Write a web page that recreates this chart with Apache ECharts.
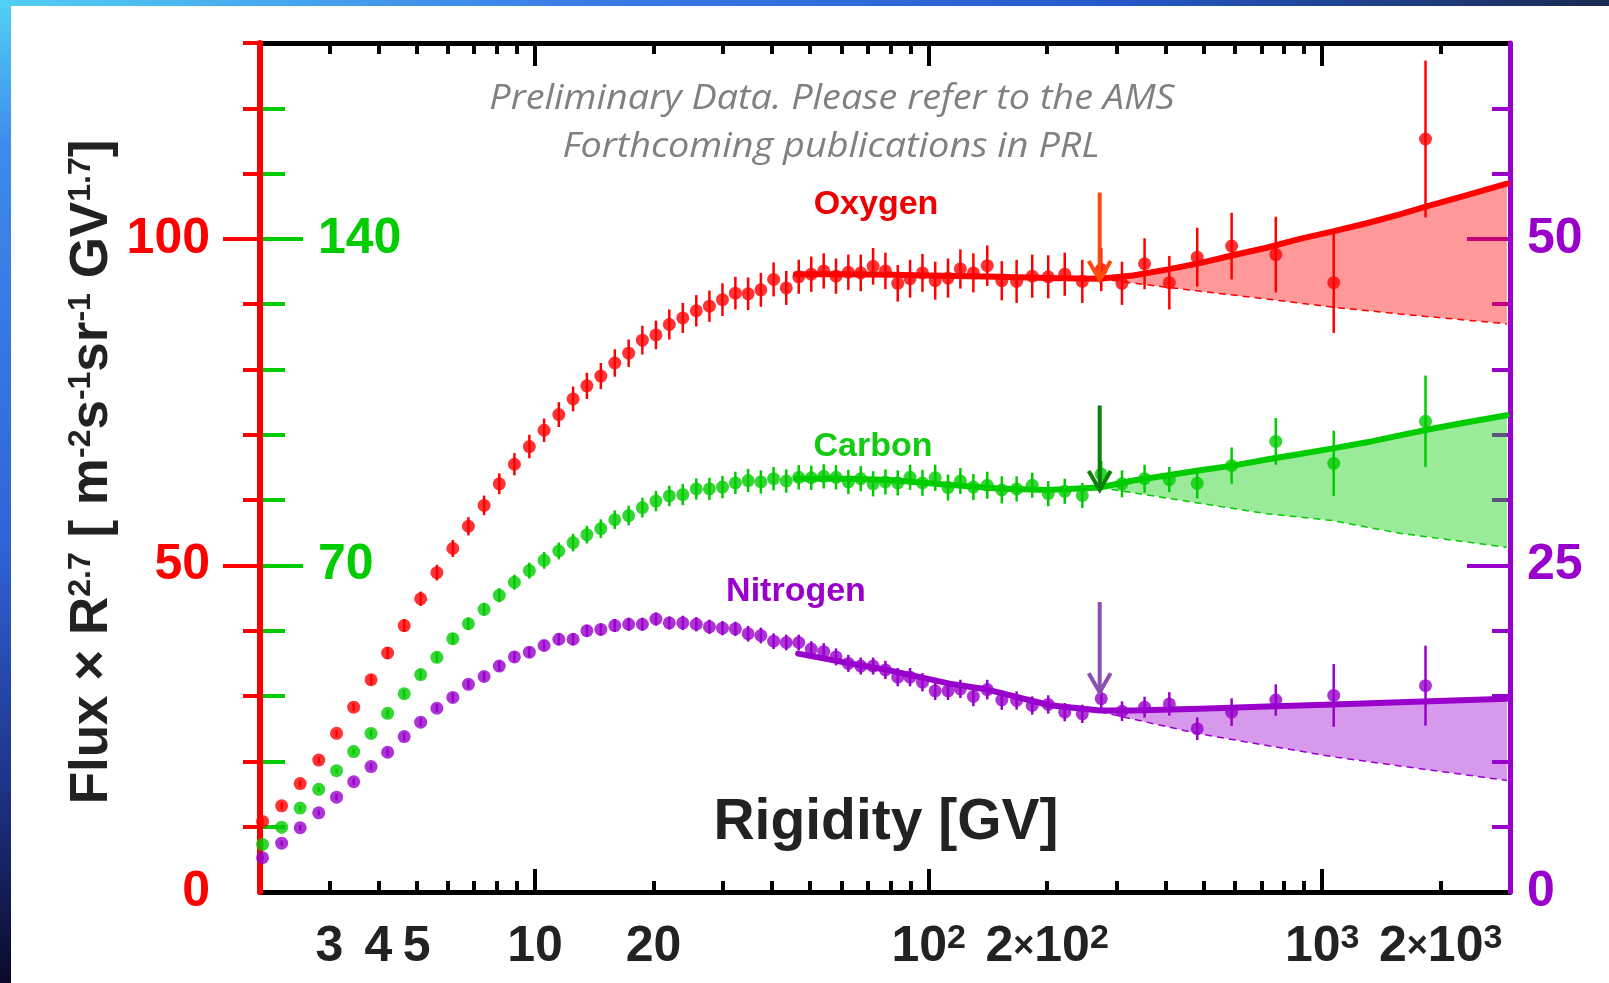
<!DOCTYPE html>
<html>
<head>
<meta charset="utf-8">
<script src="https://cdn.jsdelivr.net/npm/echarts@6/dist/echarts.min.js"></script>
<style>
  html, body { margin: 0; padding: 0; background: #fff; }
  #main { width: 1609px; height: 983px; }
</style>
</head>
<body>
<div id="main"></div>
<script>
// rigidity bin centres [GV]
var rigidity = [2.03, 2.27, 2.53, 2.82, 3.13, 3.46, 3.83, 4.22, 4.65, 5.12, 5.63, 6.18, 6.77, 7.42, 8.11, 8.86, 9.67,
  10.54, 11.49, 12.49, 13.54, 14.69, 15.94, 17.29, 18.73, 20.28, 21.93, 23.73, 25.68, 27.73, 29.93, 32.28, 34.78,
  37.47, 40.37, 43.47, 46.77, 50.32, 54.12, 58.16, 62.51, 67.21, 72.25, 77.65, 83.45, 89.69, 96.44, 103.9, 112.0,
  120.4, 129.9, 140.9, 153.4, 167.3, 183.3, 201.3, 221.7, 245.7, 274.5, 309.9, 353.7, 408.8, 481.3, 588.6, 762.1,
  1069.6, 1830];

// oxygen, read on the red (left) scale
var oxygen = [10.8, 13.2, 16.6, 20.2, 24.3, 28.3, 32.5, 36.6, 40.8, 44.9,
  48.9, 52.6, 56.0, 59.2, 62.5, 65.5, 68.2, 70.7, 73.1, 75.5,
  77.5, 79.0, 81.0, 82.5, 84.5, 85.3, 86.9, 87.9, 89.0, 89.7,
  90.7, 91.7, 91.6, 92.2, 93.8, 92.5, 94.2, 94.6, 95.1, 94.3,
  94.9, 94.8, 95.8, 95.1, 93.2, 93.9, 94.8, 93.6, 94.0, 95.4,
  94.8, 95.9, 93.6, 93.5, 94.3, 94.2, 94.6, 93.5, 95.3, 93.2,
  96.2, 93.3, 97.2, 98.9, 97.6, 93.3, 115.3];
var oxygenErr = [0.5, 0.5, 0.5, 0.5, 0.5, 0.6, 0.8, 0.9, 1.0, 1.1,
  1.2, 1.3, 1.4, 1.5, 1.6, 1.7, 1.8, 1.8, 1.9, 1.9,
  2.0, 2.0, 2.1, 2.1, 2.2, 2.2, 2.3, 2.3, 2.4, 2.4,
  2.5, 2.5, 2.5, 2.6, 2.6, 2.6, 2.6, 2.7, 2.7, 2.7,
  2.7, 2.8, 2.8, 2.8, 2.8, 2.9, 2.9, 2.9, 3.0, 3.0,
  3.0, 3.1, 3.0, 3.3, 3.3, 3.3, 3.3, 3.3, 3.3, 3.3,
  3.9, 4.1, 4.5, 5.1, 5.8, 7.7, 12.0];

// carbon, read on the green scale
var carbon = [10.2, 13.9, 18.0, 22.0, 26.0, 30.1, 34.0, 38.3, 42.5, 46.6,
  50.3, 54.3, 57.5, 60.6, 63.6, 66.4, 68.9, 71.1, 73.1, 74.9,
  76.6, 77.9, 79.8, 80.7, 82.4, 83.8, 84.9, 85.2, 86.4, 86.4,
  86.8, 87.7, 88.2, 87.9, 88.6, 88.1, 88.9, 88.8, 89.1, 88.9,
  87.9, 88.6, 87.5, 87.9, 87.7, 88.9, 87.7, 88.8, 86.7, 88.1,
  86.8, 87.2, 86.2, 86.4, 87.2, 85.4, 85.9, 85.0, 89.6, 87.5,
  88.6, 88.4, 87.6, 91.4, 96.6, 91.9, 100.9];
var carbonErr = [0.4, 0.4, 0.5, 0.5, 0.5, 0.6, 0.7, 0.8, 0.9, 1.0,
  1.1, 1.2, 1.3, 1.4, 1.5, 1.6, 1.7, 1.8, 1.8, 1.9,
  1.9, 2.0, 2.0, 2.1, 2.1, 2.2, 2.2, 2.3, 2.3, 2.4,
  2.4, 2.4, 2.5, 2.5, 2.5, 2.5, 2.6, 2.6, 2.6, 2.6,
  2.6, 2.7, 2.7, 2.7, 2.7, 2.7, 2.8, 2.8, 2.8, 2.8,
  2.8, 2.9, 2.9, 2.7, 2.7, 2.7, 2.7, 2.7, 2.8, 2.9,
  3.0, 2.7, 3.2, 3.9, 5.0, 7.0, 9.8];

// nitrogen, read on the purple (right) scale
var nitrogen = [2.62, 3.74, 4.92, 6.06, 7.26, 8.44, 9.6, 10.7, 11.9, 13.0,
  14.07, 14.9, 15.9, 16.5, 17.3, 18.0, 18.36, 18.87, 19.35, 19.35,
  20.0, 20.1, 20.4, 20.5, 20.5, 20.9, 20.6, 20.6, 20.5, 20.3,
  20.2, 20.15, 19.77, 19.64, 19.2, 19.1, 19.1, 18.6, 18.4, 18.0,
  17.5, 17.3, 17.3, 17.0, 16.45, 16.45, 16.06, 15.4, 15.4, 15.55,
  14.97, 15.5, 14.7, 14.66, 14.28, 14.36, 13.77, 13.64, 14.8, 13.84,
  14.15, 14.4, 12.5, 13.77, 14.7, 15.05, 15.8];
var nitrogenErr = [0.2, 0.2, 0.2, 0.2, 0.25, 0.25, 0.25, 0.3, 0.3, 0.3,
  0.3, 0.35, 0.35, 0.35, 0.4, 0.4, 0.4, 0.4, 0.45, 0.45,
  0.45, 0.45, 0.5, 0.5, 0.5, 0.5, 0.5, 0.55, 0.55, 0.55,
  0.55, 0.55, 0.6, 0.6, 0.6, 0.6, 0.6, 0.6, 0.65, 0.65,
  0.65, 0.65, 0.65, 0.7, 0.7, 0.7, 0.7, 0.7, 0.7, 0.7,
  0.75, 0.75, 0.75, 0.7, 0.7, 0.7, 0.7, 0.7, 0.75, 0.75,
  0.8, 0.9, 0.87, 1.06, 1.2, 2.4, 3.06];

// fits (solid) and single power law extrapolations (dashed)
var breakR = 272;
var oxygenFitR = [46, 63, 80, 100, 150, 200, 272, 331, 402, 489, 593, 722, 877, 1065, 1298, 1574, 1842, 2332, 2946];
var oxygenFit = [94.6, 94.6, 94.5, 94.4, 94.2, 94.0, 93.9, 94.4, 95.3, 96.3, 97.5, 98.65, 100.0, 101.15, 102.4, 103.75, 105.0, 106.7, 108.45];
var oxygenDashR = [272, 402, 722, 1065, 1574, 2946];
var oxygenDash = [93.9, 92.6, 90.8, 89.55, 88.5, 87.0];

var carbonFitR = [46, 63, 80, 100, 150, 200, 272, 331, 402, 489, 593, 722, 877, 1065, 1298, 1574, 1900, 2332, 2946];
var carbonFit = [88.6, 88.6, 88.3, 87.6, 86.5, 86.2, 86.7, 88.2, 89.3, 90.4, 91.4, 92.7, 93.9, 95.1, 96.4, 97.9, 99.3, 100.7, 102.2];
var carbonDashR = [272, 722, 1065, 1574, 2946];
var carbonDash = [86.7, 81.1, 79.6, 76.9, 73.9];

var nitrogenFitR = [46.6, 63, 80, 113, 141, 203, 272, 331, 489, 722, 1065, 1574, 2946];
var nitrogenFit = [18.25, 17.5, 16.95, 15.95, 15.5, 14.3, 13.9, 13.9, 14.03, 14.2, 14.36, 14.53, 14.8];
var nitrogenDashR = [272, 489, 1065, 2946];
var nitrogenDash = [13.8, 12.1, 10.35, 8.54];

// arrows at the break: [R, top, tip]
var oxygenArrow = [272, 107.1, 93.7];
var carbonArrow = [272, 104.3, 86.2];
var nitrogenArrow = [272, 22.2, 15.3];

// axis ticks / labels
var xMajorTicks = [10, 100, 1000];
var xMinorTicks = [3, 4, 5, 6, 7, 8, 9, 20, 30, 40, 50, 60, 70, 80, 90, 200, 300, 400, 500, 600, 700, 800, 900, 2000];
var xLabels = [3, 4, 5, 10, 20, 100, 200, 1000, 2000];
var xLabelText = { 3: '3', 4: '4', 5: '5', 10: '10', 20: '20', 100: '10{s|2}', 200: '2{x|×}10{s|2}',
  1000: '10{s|3}', 2000: '2{x|×}10{s|3}' };

var redTicks = [10, 20, 30, 40, 50, 60, 70, 80, 90, 100, 110, 120, 130];
var greenTicks = [14, 28, 42, 56, 70, 84, 98, 112, 126, 140, 154, 168];
var purpleTicks = [5, 10, 15, 20, 25, 30, 35, 40, 45, 50, 55, 60];

var RED = '#ff0000', GREEN = '#00cc00', PURPLE = '#9900cc';
var FONT = 'Liberation Sans';

function pairs(xs, ys) { return xs.map(function (x, i) { return [x, ys[i]]; }); }

function bandSeries(fitR, fit, dashR, dash, yIdx, color) {
  return {
    type: 'custom', yAxisIndex: yIdx, silent: true, z: 2,
    data: [[dashR[0], dash[0]]],
    renderItem: function (params, api) {
      var pts = [];
      for (var i = 0; i < fitR.length; i++) {
        if (fitR[i] >= breakR) pts.push(api.coord([fitR[i], fit[i]]));
      }
      for (var j = dashR.length - 1; j >= 0; j--) pts.push(api.coord([dashR[j], dash[j]]));
      return { type: 'polygon', shape: { points: pts }, style: { fill: color, opacity: 0.4 } };
    }
  };
}

function lineSeries(xs, ys, yIdx, color, dashed) {
  return {
    type: 'line', yAxisIndex: yIdx, data: pairs(xs, ys), showSymbol: false, silent: true, z: 3,
    lineStyle: dashed ? { color: color, width: 1.5, type: [7, 5] } : { color: color, width: 6, cap: 'round', join: 'round' }
  };
}

function errSeries(vals, errs, yIdx, color) {
  return {
    type: 'custom', yAxisIndex: yIdx, silent: true, z: 4,
    encode: { x: 0, y: 1 },
    data: rigidity.map(function (r, i) { return [r, vals[i], errs[i]]; }),
    renderItem: function (params, api) {
      var x = api.value(0), y = api.value(1), e = api.value(2);
      var p1 = api.coord([x, y - e]), p2 = api.coord([x, y + e]);
      return { type: 'line', shape: { x1: p1[0], y1: p1[1], x2: p2[0], y2: p2[1] },
        style: { stroke: color, lineWidth: 2.5 } };
    }
  };
}

function pointSeries(vals, yIdx, color) {
  return { type: 'scatter', yAxisIndex: yIdx, data: pairs(rigidity, vals), symbol: 'circle', symbolSize: 13,
    itemStyle: { color: color }, silent: true, z: 5 };
}

function arrowSeries(arrow, yIdx, color) {
  return {
    type: 'custom', yAxisIndex: yIdx, silent: true, z: 6,
    encode: { x: 0, y: [1, 2] },
    data: [arrow],
    renderItem: function (params, api) {
      var top = api.coord([api.value(0), api.value(1)]);
      var tip = api.coord([api.value(0), api.value(2)]);
      return { type: 'group', children: [
        { type: 'line', shape: { x1: top[0], y1: top[1], x2: tip[0], y2: tip[1] }, style: { stroke: color, lineWidth: 4 } },
        { type: 'polyline', shape: { points: [[tip[0] - 11, tip[1] - 19], [tip[0], tip[1]], [tip[0] + 11, tip[1] - 19]] },
          style: { stroke: color, lineWidth: 4, fill: null } }
      ] };
    }
  };
}

function xAxisDef(pos, ticks, len, line, labels) {
  return {
    type: 'log', logBase: 10, min: 2, max: 3000, position: pos,
    axisLine: { show: line, onZero: false, lineStyle: { color: '#000', width: 5 } },
    axisTick: { show: true, inside: true, length: len, customValues: ticks, lineStyle: { color: '#000', width: 4 } },
    axisLabel: labels ? {
      show: true, customValues: xLabels, margin: 30, color: '#222',
      fontFamily: FONT, fontWeight: 'bold', fontSize: 50,
      formatter: function (v) { return xLabelText[Math.round(v)] || ''; },
      rich: {
        s: { fontFamily: FONT, fontWeight: 'bold', fontSize: 34, color: '#222', verticalAlign: 'top', lineHeight: 34 },
        x: { fontFamily: FONT, fontWeight: 'bold', fontSize: 36, color: '#222' }
      }
    } : { show: false },
    splitLine: { show: false }
  };
}

function yAxisDef(pos, max, interval, color, ticks, len, inside, line, labels, margin, z) {
  return {
    type: 'value', position: pos, min: 0, max: max, interval: interval, z: z,
    axisLine: { show: line, onZero: false, lineStyle: { color: color, width: pos === 'left' ? 6 : 5 } },
    axisTick: { show: true, inside: inside, length: len, customValues: ticks, lineStyle: { color: color, width: 4 } },
    axisLabel: labels ? { show: true, customValues: labels, inside: pos === 'left' && inside, margin: margin,
      color: color, fontFamily: FONT, fontWeight: 'bold', fontSize: 50 } : { show: false },
    splitLine: { show: false }
  };
}

var chart = echarts.init(document.getElementById('main'), null, { renderer: 'canvas' });
chart.setOption({
  animation: false,
  backgroundColor: '#ffffff',
  grid: { left: 260, right: 99, top: 43, bottom: 91, containLabel: false },
  xAxis: [
    xAxisDef('bottom', xMinorTicks, 11, true, true),
    xAxisDef('bottom', xMajorTicks, 23, false, false),
    xAxisDef('top', xMinorTicks, 11, true, false),
    xAxisDef('top', xMajorTicks, 23, false, false)
  ],
  yAxis: [
    yAxisDef('left', 130, 10, RED, redTicks, 17, false, true, [0, 50, 100], 50, 3),
    yAxisDef('left', 130, 10, RED, [50, 100], 37, false, false, null, 0, 3),
    yAxisDef('left', 182, 14, GREEN, greenTicks, 25, true, false, [70, 140], 58, 1),
    yAxisDef('left', 182, 14, GREEN, [70, 140], 43, true, false, null, 0, 1),
    yAxisDef('right', 65, 5, PURPLE, purpleTicks, 18, true, true, [0, 25, 50], 17, 1),
    yAxisDef('right', 65, 5, PURPLE, [25, 50], 43, true, false, null, 0, 1)
  ],
  graphic: [
    { type: 'rect', shape: { x: 0, y: 0, width: 11, height: 983 }, silent: true,
      style: { fill: { type: 'linear', x: 0, y: 0, x2: 0, y2: 1, colorStops: [
        { offset: 0, color: '#52d0f4' }, { offset: 0.15, color: '#3d8aec' }, { offset: 0.55, color: '#2f64d8' },
        { offset: 0.82, color: '#1c2f80' }, { offset: 1, color: '#0a0a28' }] } } },
    { type: 'rect', shape: { x: 0, y: 0, width: 1609, height: 6 }, silent: true,
      style: { fill: { type: 'linear', x: 0, y: 0, x2: 1, y2: 0, colorStops: [
        { offset: 0, color: '#52d0f4' }, { offset: 0.35, color: '#3a7ee8' }, { offset: 0.7, color: '#2458c8' },
        { offset: 1, color: '#1a2a50' }] } } },
    { type: 'text', x: 832, y: 99, scaleX: 1.08, silent: true,
      style: { text: 'Preliminary Data. Please refer to the AMS', fill: '#808080', fontFamily: 'Open Sans',
        fontStyle: 'italic', fontSize: 35, align: 'center', verticalAlign: 'middle' } },
    { type: 'text', x: 831, y: 147, scaleX: 1.08, silent: true,
      style: { text: 'Forthcoming publications in PRL', fill: '#808080', fontFamily: 'Open Sans',
        fontStyle: 'italic', fontSize: 35, align: 'center', verticalAlign: 'middle' } },
    { type: 'text', x: 876, y: 205, silent: true, z: 10,
      style: { text: 'Oxygen', fill: '#ee0000', fontFamily: FONT, fontWeight: 'bold', fontSize: 34, align: 'center', verticalAlign: 'middle' } },
    { type: 'text', x: 873, y: 447, silent: true, z: 10,
      style: { text: 'Carbon', fill: '#11cc11', fontFamily: FONT, fontWeight: 'bold', fontSize: 34, align: 'center', verticalAlign: 'middle' } },
    { type: 'text', x: 796, y: 592, silent: true, z: 10,
      style: { text: 'Nitrogen', fill: PURPLE, fontFamily: FONT, fontWeight: 'bold', fontSize: 34, align: 'center', verticalAlign: 'middle' } },
    { type: 'text', x: 886, y: 823, silent: true,
      style: { text: 'Rigidity [GV]', fill: '#222', fontFamily: FONT, fontWeight: 'bold', fontSize: 57, align: 'center', verticalAlign: 'middle' } },
    { type: 'text', x: 92, y: 472, rotation: Math.PI / 2, silent: true,
      style: { text: 'Flux × R{s|2.7} [ m{s|-2}s{s|-1}sr{s|-1} GV{s|1.7}]', fill: '#222', fontFamily: FONT,
        fontWeight: 'bold', fontSize: 53, align: 'center', verticalAlign: 'middle',
        rich: { s: { fill: '#222', fontFamily: FONT, fontWeight: 'bold', fontSize: 32, verticalAlign: 'top', lineHeight: 32 } } } }
  ],
  series: [
    bandSeries(oxygenFitR, oxygenFit, oxygenDashR, oxygenDash, 0, RED),
    bandSeries(carbonFitR, carbonFit, carbonDashR, carbonDash, 2, GREEN),
    bandSeries(nitrogenFitR, nitrogenFit, nitrogenDashR, nitrogenDash, 4, PURPLE),
    lineSeries(oxygenDashR, oxygenDash, 0, RED, true),
    lineSeries(carbonDashR, carbonDash, 2, GREEN, true),
    lineSeries(nitrogenDashR, nitrogenDash, 4, PURPLE, true),
    lineSeries(oxygenFitR, oxygenFit, 0, RED, false),
    lineSeries(carbonFitR, carbonFit, 2, GREEN, false),
    lineSeries(nitrogenFitR, nitrogenFit, 4, PURPLE, false),
    errSeries(oxygen, oxygenErr, 0, RED),
    errSeries(carbon, carbonErr, 2, GREEN),
    errSeries(nitrogen, nitrogenErr, 4, PURPLE),
    pointSeries(oxygen, 0, RED),
    pointSeries(carbon, 2, GREEN),
    pointSeries(nitrogen, 4, PURPLE),
    arrowSeries(oxygenArrow, 0, '#ff4a0a'),
    arrowSeries(carbonArrow, 2, '#0a800a'),
    arrowSeries(nitrogenArrow, 4, '#8a50b4')
  ]
});
</script>
</body>
</html>
